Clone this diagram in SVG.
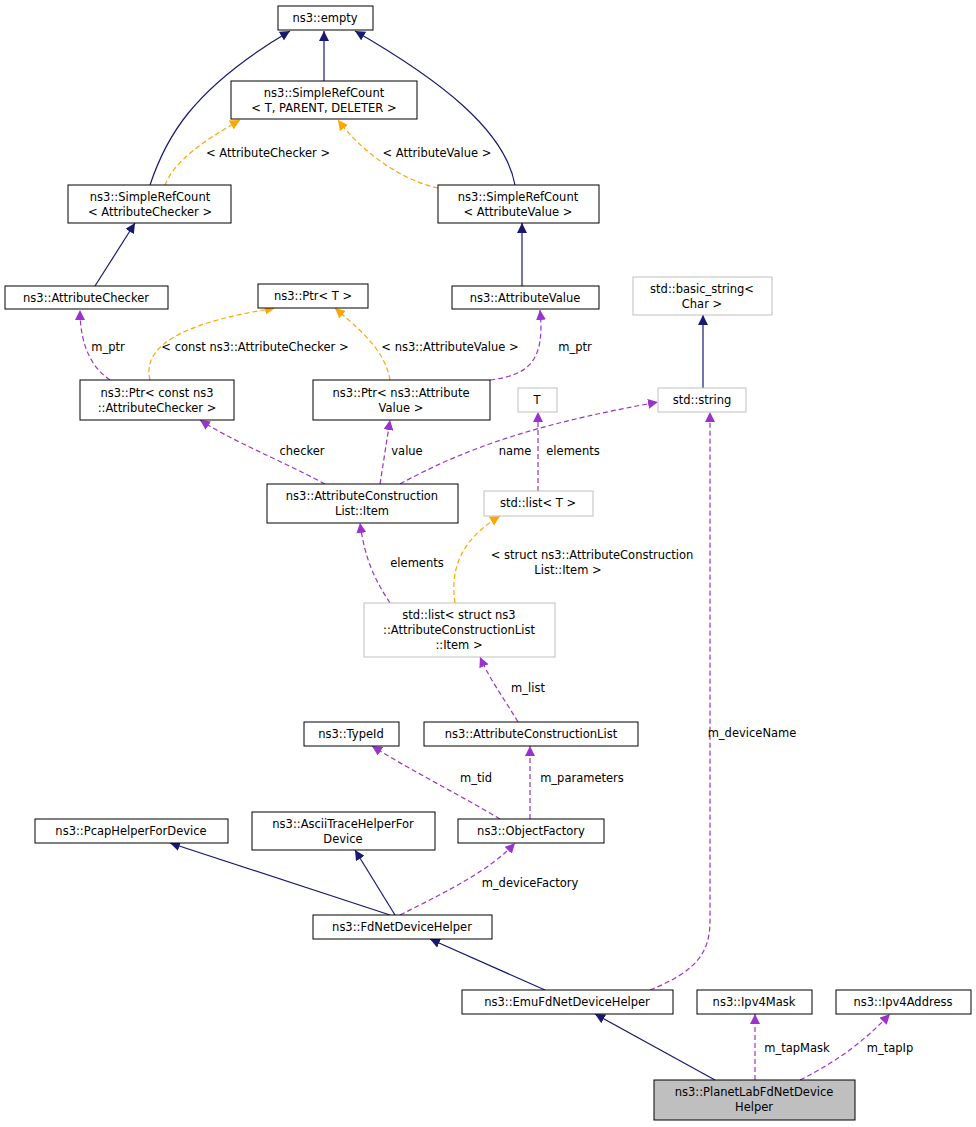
<svg xmlns="http://www.w3.org/2000/svg" width="976" height="1127" viewBox="0 0 976 1127">
<style>
text{font-family:"DejaVu Sans",sans-serif;font-size:11.5px;fill:#000;text-anchor:middle}
.n rect{fill:#fff;stroke:#000;stroke-width:1}
.g rect{fill:#fff;stroke:#bfbfbf;stroke-width:1}
.cur rect{fill:#bfbfbf;stroke:#000}
.e{fill:none;stroke:#191970;stroke-width:1.2;marker-end:url(#mi)}
.u{fill:none;stroke:#9a32cd;stroke-width:1.2;stroke-dasharray:5,3;marker-end:url(#mu)}
.t{fill:none;stroke:#ffa500;stroke-width:1.2;stroke-dasharray:5,3;marker-end:url(#mt)}
</style>
<defs>
<marker id="mi" viewBox="0 0 10 10" refX="10" refY="5" markerWidth="10" markerHeight="10" markerUnits="userSpaceOnUse" orient="auto"><path d="M0,0L10,5L0,10z" fill="#191970"/></marker>
<marker id="mu" viewBox="0 0 10 10" refX="10" refY="5" markerWidth="10" markerHeight="10" markerUnits="userSpaceOnUse" orient="auto"><path d="M0,0L10,5L0,10z" fill="#9a32cd"/></marker>
<marker id="mt" viewBox="0 0 10 10" refX="10" refY="5" markerWidth="10" markerHeight="10" markerUnits="userSpaceOnUse" orient="auto"><path d="M0,0L10,5L0,10z" fill="#ffa500"/></marker>
</defs>
<rect width="976" height="1127" fill="#fff"/>
<g id="edges">
<path class="e" d="M150,185 C165,140 190,90 290,31"/>
<path class="e" d="M324,81 L324,31"/>
<path class="e" d="M515,185 C505,130 440,80 355,31"/>
<path class="t" d="M165,185 C175,160 205,140 240,120"/>
<path class="t" d="M438,188 C400,180 360,150 338,120"/>
<path class="e" d="M95,286 L135,223"/>
<path class="e" d="M522,286 L522,223"/>
<path class="e" d="M703,388 L703,315"/>
<path class="u" d="M110,380 C95,370 80,350 80,310"/>
<path class="t" d="M150,380 C140,340 200,320 275,308"/>
<path class="t" d="M390,380 C385,350 360,330 335,308"/>
<path class="u" d="M490,380 C530,375 545,360 540,310"/>
<path class="u" d="M325,484 C280,460 230,440 200,420"/>
<path class="u" d="M380,484 L390,420"/>
<path class="u" d="M400,484 C480,440 560,420 658,402"/>
<path class="u" d="M538,491 L538,412"/>
<path class="u" d="M390,603 C375,580 365,560 360,523"/>
<path class="t" d="M455,603 C450,570 460,540 500,516"/>
<path class="u" d="M518,722 C505,700 490,680 480,657"/>
<path class="u" d="M500,819 C460,795 410,770 372,746"/>
<path class="u" d="M530,819 L530,746"/>
<path class="u" d="M650,990 C700,970 710,950 710,920 L710,412"/>
<path class="e" d="M390,915 L170,843"/>
<path class="e" d="M395,915 L355,850"/>
<path class="u" d="M400,915 C450,890 490,870 515,843"/>
<path class="e" d="M545,990 L430,939"/>
<path class="e" d="M715,1080 L595,1014"/>
<path class="u" d="M755,1080 L755,1014"/>
<path class="u" d="M800,1080 C840,1060 865,1040 890,1014"/>
<text x="268" y="157">&lt; AttributeChecker &gt;</text>
<text x="437" y="157">&lt; AttributeValue &gt;</text>
<text x="108" y="351">m_ptr</text>
<text x="255" y="351">&lt; const ns3::AttributeChecker &gt;</text>
<text x="450" y="351">&lt; ns3::AttributeValue &gt;</text>
<text x="575" y="351">m_ptr</text>
<text x="302" y="455">checker</text>
<text x="407" y="455">value</text>
<text x="515" y="455">name</text>
<text x="573" y="455">elements</text>
<text x="417" y="567">elements</text>
<text x="592" y="559">&lt; struct ns3::AttributeConstruction</text>
<text x="568" y="574">List::Item &gt;</text>
<text x="528" y="692">m_list</text>
<text x="476" y="782">m_tid</text>
<text x="582" y="782">m_parameters</text>
<text x="752" y="737">m_deviceName</text>
<text x="530" y="887">m_deviceFactory</text>
<text x="797" y="1052">m_tapMask</text>
<text x="890" y="1052">m_tapIp</text>
</g>
<g id="n1" class="n"><rect x="278" y="6" width="95" height="24"/><text x="325" y="22">ns3::empty</text></g>
<g id="n2" class="n"><rect x="231" y="81" width="186" height="38"/><text x="324" y="97">ns3::SimpleRefCount</text><text x="324" y="112">&lt; T, PARENT, DELETER &gt;</text></g>
<g id="n3" class="n"><rect x="68" y="185" width="163" height="38"/><text x="150" y="201">ns3::SimpleRefCount</text><text x="150" y="216">&lt; AttributeChecker &gt;</text></g>
<g id="n4" class="n"><rect x="438" y="185" width="161" height="38"/><text x="518" y="201">ns3::SimpleRefCount</text><text x="518" y="216">&lt; AttributeValue &gt;</text></g>
<g id="n5" class="n"><rect x="5" y="286" width="163" height="23"/><text x="86" y="302">ns3::AttributeChecker</text></g>
<g id="n6" class="n"><rect x="258" y="284" width="110" height="24"/><text x="313" y="300">ns3::Ptr&lt; T &gt;</text></g>
<g id="n7" class="n"><rect x="452" y="286" width="147" height="23"/><text x="525" y="302">ns3::AttributeValue</text></g>
<g id="n8" class="g"><rect x="633" y="277" width="139" height="38"/><text x="702" y="293">std::basic_string&lt;</text><text x="702" y="308">Char &gt;</text></g>
<g id="n9" class="n"><rect x="80" y="380" width="154" height="40"/><text x="157" y="397">ns3::Ptr&lt; const ns3</text><text x="157" y="412">::AttributeChecker &gt;</text></g>
<g id="n10" class="n"><rect x="313" y="380" width="177" height="40"/><text x="401" y="397">ns3::Ptr&lt; ns3::Attribute</text><text x="401" y="412">Value &gt;</text></g>
<g id="n11" class="g"><rect x="518" y="388" width="39" height="24"/><text x="537" y="404">T</text></g>
<g id="n12" class="g"><rect x="658" y="388" width="88" height="24"/><text x="702" y="404">std::string</text></g>
<g id="n13" class="n"><rect x="267" y="484" width="191" height="39"/><text x="362" y="500">ns3::AttributeConstruction</text><text x="362" y="515">List::Item</text></g>
<g id="n14" class="g"><rect x="484" y="491" width="109" height="25"/><text x="538" y="507">std::list&lt; T &gt;</text></g>
<g id="n15" class="g"><rect x="364" y="603" width="191" height="54"/><text x="459" y="619">std::list&lt; struct ns3</text><text x="459" y="634">::AttributeConstructionList</text><text x="459" y="649">::Item &gt;</text></g>
<g id="n16" class="n"><rect x="304" y="722" width="95" height="24"/><text x="351" y="738">ns3::TypeId</text></g>
<g id="n17" class="n"><rect x="424" y="722" width="214" height="24"/><text x="531" y="738">ns3::AttributeConstructionList</text></g>
<g id="n18" class="n"><rect x="35" y="819" width="193" height="24"/><text x="131" y="835">ns3::PcapHelperForDevice</text></g>
<g id="n19" class="n"><rect x="252" y="812" width="183" height="38"/><text x="343" y="828">ns3::AsciiTraceHelperFor</text><text x="343" y="843">Device</text></g>
<g id="n20" class="n"><rect x="458" y="819" width="146" height="24"/><text x="531" y="835">ns3::ObjectFactory</text></g>
<g id="n21" class="n"><rect x="313" y="915" width="179" height="24"/><text x="402" y="931">ns3::FdNetDeviceHelper</text></g>
<g id="n22" class="n"><rect x="462" y="990" width="211" height="24"/><text x="567" y="1006">ns3::EmuFdNetDeviceHelper</text></g>
<g id="n23" class="n"><rect x="697" y="990" width="115" height="24"/><text x="754" y="1006">ns3::Ipv4Mask</text></g>
<g id="n24" class="n"><rect x="836" y="990" width="135" height="24"/><text x="903" y="1006">ns3::Ipv4Address</text></g>
<g id="n25" class="cur"><rect x="654" y="1080" width="201" height="40"/><text x="754" y="1096">ns3::PlanetLabFdNetDevice</text><text x="754" y="1111">Helper</text></g>
</svg>
